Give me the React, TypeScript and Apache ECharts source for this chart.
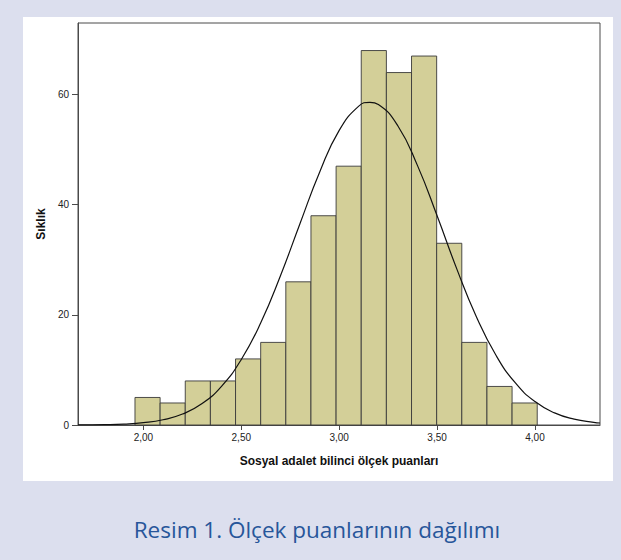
import React, { useEffect, useRef } from "react";
import * as echarts from "echarts";

// Histogram bins (lower edge, upper edge) and frequencies
const binLower = [1.957, 2.0854, 2.2138, 2.3422, 2.4706, 2.599, 2.7274, 2.8558, 2.9842, 3.1126, 3.241, 3.3694, 3.4978, 3.6262, 3.7546, 3.883];
const binUpper = [2.0854, 2.2138, 2.3422, 2.4706, 2.599, 2.7274, 2.8558, 2.9842, 3.1126, 3.241, 3.3694, 3.4978, 3.6262, 3.7546, 3.883, 4.0114];
const frequencies = [5, 4, 8, 8, 12, 15, 26, 38, 47, 68, 64, 67, 33, 15, 7, 4];

// Fitted normal curve
const curveX = [1.666, 1.7, 1.8, 1.9, 2.0, 2.1, 2.2, 2.3, 2.4, 2.5, 2.6, 2.7, 2.8, 2.9, 3.0, 3.1, 3.157, 3.2, 3.3, 3.4, 3.5, 3.6, 3.7, 3.8, 3.9, 4.0, 4.1, 4.2, 4.3, 4.332];
const curveY = [0.015, 0.023, 0.065, 0.17, 0.42, 0.95, 1.99, 3.89, 7.06, 11.9, 18.6, 27.1, 36.6, 45.9, 53.5, 57.9, 58.6, 58.2, 54.3, 47.1, 38.0, 28.4, 19.7, 12.7, 7.63, 4.25, 2.2, 1.06, 0.47, 0.36];

const xTickValues = [2.0, 2.5, 3.0, 3.5, 4.0];
const xTickLabels = ["2,00", "2,50", "3,00", "3,50", "4,00"];
const yTickValues = [0, 20, 40, 60];

const xName = "Sosyal adalet bilinci ölçek puanları";
const yName = "Sıklık";
const caption = "Resim 1. Ölçek puanlarının dağılımı";

export default function App() {
  const ref = useRef<HTMLDivElement>(null);
  useEffect(() => {
    if (!ref.current) return;
    const chart = echarts.init(ref.current, undefined, { renderer: "svg" });
    const barData = frequencies.map((f, i) => [binLower[i], binUpper[i], f]);
    const lineData = curveX.map((x, i) => [x, curveY[i]]);
    const font = "'Liberation Sans', Arial, sans-serif";
    chart.setOption({
      animation: false,
      backgroundColor: "#dcdfee",
      graphic: [
        {
          type: "rect",
          z: -10,
          silent: true,
          shape: { x: 23, y: 17, width: 590, height: 464 },
          style: { fill: "#ffffff" },
        },
        {
          type: "text",
          z: 10,
          x: 317,
          y: 529,
          style: {
            text: caption,
            fill: "#27569a",
            font: "22.5px 'Open Sans', sans-serif",
            textAlign: "center",
            textVerticalAlign: "middle",
          },
        },
      ],
      grid: {
        left: 78,
        right: 21,
        top: 23,
        bottom: 135,
        show: true,
        backgroundColor: "#ffffff",
        borderColor: "#4a4a4a",
        borderWidth: 1,
      },
      xAxis: {
        type: "value",
        min: 1.666,
        max: 4.332,
        name: xName,
        nameLocation: "middle",
        nameGap: 30,
        nameTextStyle: { fontFamily: font, fontWeight: "bold", fontSize: 12, color: "#111" },
        axisLine: { show: true, lineStyle: { color: "#4a4a4a", width: 1 } },
        axisTick: { show: true, length: 5, customValues: xTickValues, lineStyle: { color: "#4a4a4a" } },
        axisLabel: {
          customValues: xTickValues,
          formatter: (v: number) => xTickLabels[xTickValues.indexOf(v)] ?? "",
          fontFamily: font,
          fontSize: 10,
          color: "#222",
          margin: 7,
        },
        splitLine: { show: false },
      },
      yAxis: {
        type: "value",
        min: 0,
        max: 73,
        name: yName,
        nameLocation: "middle",
        nameGap: 30,
        nameTextStyle: { fontFamily: font, fontWeight: "bold", fontSize: 12, color: "#111" },
        axisLine: { show: true, lineStyle: { color: "#4a4a4a", width: 1 } },
        axisTick: { show: true, length: 6, customValues: yTickValues, lineStyle: { color: "#4a4a4a" } },
        axisLabel: {
          customValues: yTickValues,
          fontFamily: font,
          fontSize: 10,
          color: "#222",
          margin: 9,
        },
        splitLine: { show: false },
      },
      series: [
        {
          type: "custom",
          z: 2,
          data: barData,
          encode: { x: [0, 1], y: 2 },
          renderItem: (params: any, api: any) => {
            const p0 = api.coord([api.value(0), api.value(2)]);
            const p1 = api.coord([api.value(1), 0]);
            return {
              type: "rect",
              shape: { x: p0[0], y: p0[1], width: p1[0] - p0[0], height: p1[1] - p0[1] },
              style: { fill: "#d3cf98", stroke: "#3a3a3a", lineWidth: 0.9 },
            };
          },
        },
        {
          type: "line",
          z: 3,
          data: lineData,
          smooth: true,
          showSymbol: false,
          lineStyle: { color: "#111", width: 1.2 },
        },
      ],
    });
    return () => chart.dispose();
  }, []);
  return (
    <div
      ref={ref}
      style={{ position: "fixed", left: 0, top: 0, width: 621, height: 560 }}
    />
  );
}
